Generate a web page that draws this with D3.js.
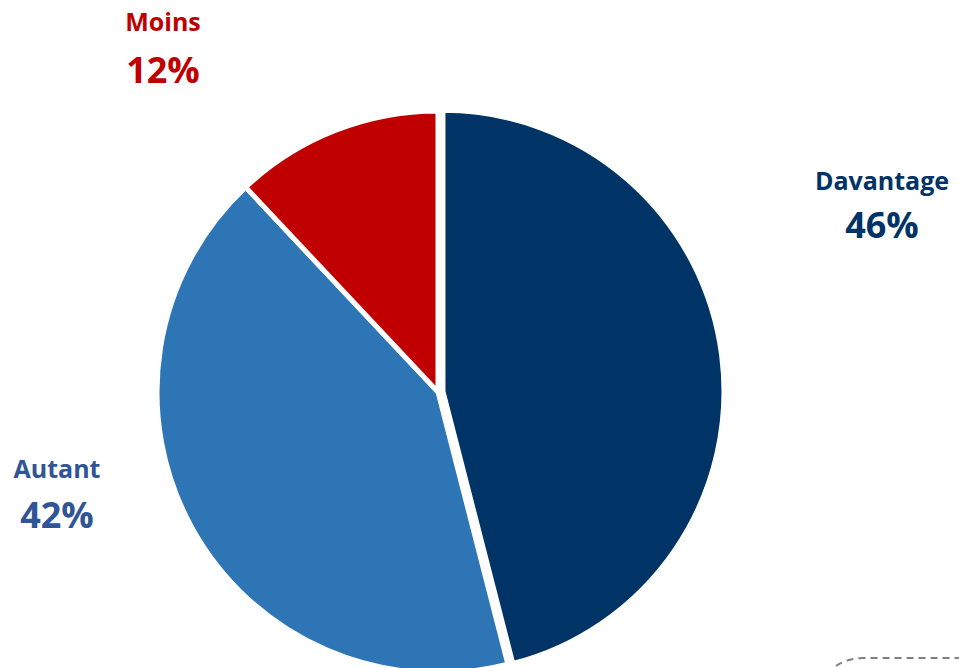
<!DOCTYPE html>
<html>
<head>
<meta charset="utf-8">
<script src="https://cdn.jsdelivr.net/npm/d3@7"></script>
<style>
  html, body { margin: 0; padding: 0; background: #fff; }
  svg { display: block; }
  text { font-family: "Open Sans", Lato, sans-serif; font-weight: bold; }
</style>
</head>
<body>
<div id="viz"></div>
<script>
// Data
const categories = ['Davantage', 'Autant', 'Moins'];
const values = [46, 42, 12];
const valueLabels = ['46%', '42%', '12%'];
const sliceColors = ['#003366', '#2E75B6', '#C00000'];
const labelColors = ['#003366', '#2F5597', '#C00000'];

(function () {
  const W = 959, H = 668;
  const cx = 438, cy = 392, r = 281;

  const svg = d3.select('#viz').append('svg')
    .attr('width', W).attr('height', H);

  const data = categories.map((c, i) => ({ cat: c, value: values[i], i: i }));

  const pie = d3.pie().sort(null).value((d) => d.value);
  const arc = d3.arc().innerRadius(0).outerRadius(r);
  const arcs = pie(data);

  const g = svg.append('g').attr('transform', `translate(${cx},${cy})`);

  // slices (first one pulled out a little)
  g.selectAll('path.slice')
    .data(arcs)
    .enter()
    .append('path')
    .attr('class', 'slice')
    .attr('d', arc)
    .attr('fill', (d) => sliceColors[d.data.i])
    .attr('stroke', '#fff')
    .attr('stroke-width', 5)
    .attr('stroke-linejoin', 'miter')
    .attr('transform', (d) => {
      if (d.data.i !== 0) return null;
      const a = (d.startAngle + d.endAngle) / 2;
      const off = 5;
      return `translate(${Math.sin(a) * off},${-Math.cos(a) * off})`;
    });

  // labels
  const labelPos = [
    { x: 882, y1: 190, y2: 238 },
    { x: 57, y1: 478, y2: 528 },
    { x: 163, y1: 31, y2: 83 }
  ];

  const lab = svg.selectAll('g.lab')
    .data(data)
    .enter()
    .append('g')
    .attr('class', 'lab')
    .attr('fill', (d) => labelColors[d.i]);

  lab.append('text')
    .attr('x', (d) => labelPos[d.i].x)
    .attr('y', (d) => labelPos[d.i].y1)
    .attr('text-anchor', 'middle')
    .attr('font-size', 25)
    .text((d) => d.cat);

  lab.append('text')
    .attr('x', (d) => labelPos[d.i].x)
    .attr('y', (d) => labelPos[d.i].y2)
    .attr('text-anchor', 'middle')
    .attr('font-size', 36)
    .text((d) => valueLabels[d.i]);

  // decorative dashed line at bottom right
  svg.append('path')
    .attr('d', 'M836,666 Q846,659 862,658 L959,658')
    .attr('fill', 'none')
    .attr('stroke', '#808080')
    .attr('stroke-width', 2)
    .attr('stroke-dasharray', '7,5');
})();
</script>
</body>
</html>
